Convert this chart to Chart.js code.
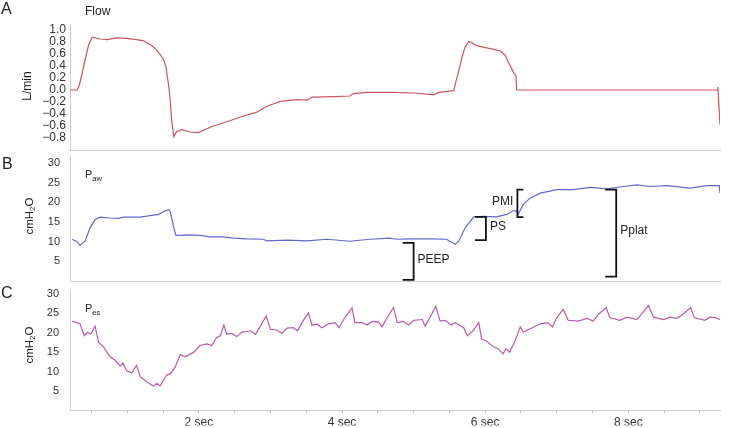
<!DOCTYPE html>
<html>
<head>
<meta charset="utf-8">
<script src="https://cdn.jsdelivr.net/npm/chart.js@4.4.0/dist/chart.umd.min.js"></script>
<style>
  html, body { margin: 0; padding: 0; background: #fff; }
  #wrap { position: relative; width: 729px; height: 428px; }
  #wrap canvas { position: absolute; left: 0; top: 0; }
</style>
</head>
<body>
<div id="wrap">
  <canvas id="flow" width="729" height="428"></canvas>
  <canvas id="paw" width="729" height="428"></canvas>
  <canvas id="pes" width="729" height="428"></canvas>
</div>
<script>
// time axis (sec)
const secTicks = [0.5, 1, 1.5, 2, 2.5, 3, 3.5, 4, 4.5, 5, 5.5, 6, 6.5, 7, 7.5, 8, 8.5, 9];
const secLabels = [2, 4, 6, 8];
const flowTicks = [1.0, 0.8, 0.6, 0.4, 0.2, 0, -0.2, -0.4, -0.6, -0.8];
const pressureTicks = [5, 10, 15, 20, 25, 30];

// A: flow (L/min)
const flowT = [0.20,0.30,0.33,0.37,0.41,0.46,0.51,0.62,0.72,0.85,0.99,1.13,1.23,1.27,1.34,1.41,1.46,1.51,1.54,1.56,
  1.58,1.60,1.62,1.65,1.69,1.76,1.88,1.99,2.20,2.39,2.58,2.81,2.95,3.14,3.37,3.51,3.58,3.88,4.11,4.16,
  4.35,4.72,5.00,5.18,5.28,5.35,5.56,5.59,5.63,5.67,5.72,5.77,5.81,5.88,6.07,6.21,6.28,6.32,6.37,6.40,
  6.43,6.44,9.24,9.25,9.28];
const flowV = [0.0,0.0,0.08,0.28,0.5,0.75,0.88,0.85,0.84,0.87,0.86,0.84,0.82,0.79,0.74,0.67,0.59,0.50,0.39,0.22,
  0.06,-0.17,-0.5,-0.78,-0.69,-0.66,-0.70,-0.71,-0.60,-0.53,-0.45,-0.37,-0.27,-0.19,-0.16,-0.17,-0.12,-0.11,-0.10,-0.06,
  -0.04,-0.04,-0.05,-0.07,-0.08,-0.04,-0.01,0.14,0.31,0.52,0.72,0.81,0.79,0.74,0.69,0.65,0.58,0.47,0.36,0.28,
  0.24,0.0,0.0,0.05,-0.58];

// B: airway pressure (cmH2O)
const pawT = [0.23,0.30,0.34,0.38,0.41,0.48,0.55,0.62,0.76,0.88,0.95,1.18,1.32,1.44,1.51,1.58,1.60,1.65,1.68,1.74,
  1.83,2.02,2.16,2.34,2.48,2.67,2.90,2.95,3.23,3.51,3.79,4.11,4.39,4.67,4.77,4.95,5.23,5.46,5.58,5.63,
  5.72,5.84,5.97,6.16,6.30,6.40,6.44,6.46,6.53,6.63,6.77,7.00,7.23,7.47,7.70,7.93,8.12,8.30,8.54,8.86,
  9.10,9.27,9.28];
const pawV = [10.6,10.0,9.0,9.7,10.1,13.5,15.6,16.2,16.0,15.9,16.2,16.2,16.6,16.9,17.7,18.1,17.7,13.5,11.6,11.6,
  11.7,11.6,11.2,11.2,10.9,10.7,10.6,10.2,10.4,10.2,10.6,10.1,10.6,10.9,10.6,10.7,10.7,10.6,9.3,10.1,
  13.5,16.3,16.4,16.3,16.9,17.9,17.7,16.9,19.4,21.1,22.3,23.2,23.2,23.8,23.4,24.0,24.4,24.0,24.2,23.6,
  24.2,24.2,22.3];

// C: esophageal pressure (cmH2O)
const pesT = [0.23,0.34,0.40,0.44,0.49,0.55,0.60,0.67,0.76,0.83,0.90,0.94,0.99,1.06,1.13,1.18,1.27,1.37,1.41,1.46,
  1.55,1.60,1.67,1.74,1.81,1.93,2.02,2.11,2.18,2.25,2.30,2.35,2.39,2.46,2.53,2.60,2.72,2.79,2.86,2.94,
  3.00,3.09,3.16,3.23,3.32,3.38,3.44,3.53,3.58,3.65,3.72,3.81,3.90,3.96,4.04,4.14,4.18,4.28,4.35,4.42,
  4.51,4.56,4.63,4.72,4.77,4.86,4.93,5.00,5.12,5.16,5.23,5.31,5.37,5.44,5.52,5.58,5.70,5.75,5.83,5.91,
  5.95,6.02,6.12,6.18,6.25,6.29,6.34,6.42,6.49,6.53,6.65,6.77,6.88,6.94,7.00,7.09,7.16,7.30,7.42,7.51,
  7.58,7.69,7.74,7.88,7.98,8.12,8.19,8.28,8.35,8.49,8.58,8.68,8.77,8.87,8.92,9.07,9.14,9.21,9.28];
const pesV = [23.0,22.3,19.2,20.1,19.6,21.7,17.5,16.3,13.8,12.9,11.4,12.2,10.2,9.7,11.6,8.7,7.4,6.2,7.0,6.3,
  9.1,9.4,11.2,14.4,13.8,15.0,16.7,17.1,16.7,18.8,19.2,22.0,19.6,19.8,19.0,20.1,20.5,19.6,21.7,24.3,
  20.9,20.7,19.8,21.2,21.3,20.5,22.6,25.1,22.0,22.2,21.3,22.3,22.6,21.3,23.9,26.4,22.6,22.6,22.0,22.9,
  22.8,21.5,23.9,26.5,22.6,22.9,22.0,23.2,23.4,21.7,24.0,26.8,23.0,23.2,22.0,22.6,21.3,19.2,20.5,22.6,
  18.4,17.8,16.3,15.9,14.6,15.9,15.0,18.0,21.5,20.2,21.2,22.3,22.6,21.5,23.9,26.0,23.2,23.0,23.7,23.0,
  24.7,26.5,23.9,23.2,24.0,23.4,24.9,27.0,24.0,23.4,24.0,23.7,24.9,26.5,23.9,23.2,24.0,23.9,23.4];

// pressure markers on panel B
const markNames = ['PEEP', 'PS', 'PMI', 'Pplat'];
const markT = [5.0, 6.01, 6.45, 7.83];
const markLow = [0.3, 10.4, 16.2, 1.1];
const markHigh = [9.7, 16.3, 23.2, 23.2];
const markOpen = [false, false, true, false];

const FONT = '"Liberation Sans", Arial, Helvetica, sans-serif';
const TEXT = '#222';
const AXIS = '#cfcfcf';

function pts(ts, vs) {
  return ts.map((t, i) => ({ x: t, y: vs[i] }));
}

// text with an optional subscript; rotated = reads bottom to top
function drawParts(ctx, parts, x, y, rotated) {
  ctx.save();
  ctx.translate(x, y);
  if (rotated) ctx.rotate(-Math.PI / 2);
  ctx.textAlign = 'left';
  ctx.textBaseline = 'alphabetic';
  ctx.fillStyle = TEXT;
  let w = 0;
  parts.forEach(p => {
    ctx.font = p[1] + 'px ' + FONT;
    p.w = ctx.measureText(p[0]).width;
    w += p.w;
  });
  let cx = rotated ? -w / 2 : 0;
  parts.forEach(p => {
    ctx.font = p[1] + 'px ' + FONT;
    ctx.fillText(p[0], cx, p[2] || 0);
    cx += p.w;
  });
  ctx.restore();
}

function panelText(cfg) {
  return {
    id: 'panelText',
    afterDraw(chart) {
      const ctx = chart.ctx;
      drawParts(ctx, [[cfg.letter, 16]], cfg.letterX, cfg.letterY, false);
      drawParts(ctx, cfg.name, 85, cfg.nameY, false);
      drawParts(ctx, cfg.unit, cfg.unitX, cfg.unitY, true);
    }
  };
}

const bracketPlugin = {
  id: 'brackets',
  afterDatasetsDraw(chart) {
    const { ctx, scales: { x, y } } = chart;
    ctx.save();
    ctx.strokeStyle = '#111';
    ctx.lineWidth = 1.8;
    ctx.fillStyle = TEXT;
    ctx.font = '12px ' + FONT;
    ctx.textBaseline = 'middle';
    markNames.forEach((name, i) => {
      const px = x.getPixelForValue(markT[i]);
      const top = y.getPixelForValue(markHigh[i]);
      const bot = y.getPixelForValue(markLow[i]);
      const arm = markOpen[i] ? 6 : -11;
      ctx.beginPath();
      ctx.moveTo(px + arm, top);
      ctx.lineTo(px, top);
      ctx.lineTo(px, bot);
      ctx.lineTo(px + arm, bot);
      ctx.stroke();
      const my = (top + bot) / 2 - 2;
      if (markOpen[i]) {
        ctx.textAlign = 'right';
        ctx.fillText(name, px - 4, my);
      } else {
        ctx.textAlign = 'left';
        ctx.fillText(name, px + 4, my);
      }
    });
    ctx.restore();
  }
};

function xScale(withLabels) {
  return {
    type: 'linear',
    min: 0.2,
    max: 9.28,
    border: { display: true, color: AXIS, width: 1 },
    grid: { display: true, drawOnChartArea: false, drawTicks: withLabels, tickLength: 3, color: '#c4c4c4' },
    ticks: { display: withLabels, autoSkip: false, maxRotation: 0, padding: 2,
      color: '#333', font: { family: FONT, size: 12 },
      callback: v => secLabels.includes(v) ? v + ' sec' : '' },
    afterBuildTicks: sc => { sc.ticks = secTicks.map(v => ({ value: v })); },
    afterFit: sc => { sc.height = withLabels ? 15 : 0; }
  };
}

function yScale(min, max, ticks, pad, size, fmt) {
  return {
    min: min,
    max: max,
    border: { display: true, color: AXIS, width: 1 },
    grid: { display: true, drawOnChartArea: false, drawTicks: false },
    ticks: { autoSkip: false, padding: pad, color: '#333', font: { family: FONT, size: size }, callback: fmt },
    afterBuildTicks: sc => { sc.ticks = ticks.map(v => ({ value: v })); },
    afterFit: sc => { sc.width = 70; }
  };
}

function makePanel(id, data, color, padding, scaleX, scaleY, plugins) {
  return new Chart(document.getElementById(id), {
    type: 'line',
    data: {
      datasets: [{
        data: data,
        borderColor: color,
        borderWidth: 1.2,
        pointRadius: 0,
        tension: 0,
        fill: false
      }]
    },
    options: {
      responsive: false,
      animation: false,
      events: [],
      layout: { padding: padding },
      plugins: { legend: { display: false }, tooltip: { enabled: false } },
      scales: { x: scaleX, y: scaleY }
    },
    plugins: plugins
  });
}

const flowFmt = v => (v < -0.001 ? '\u2212' : '') + Math.abs(v).toFixed(1);
const intFmt = v => String(v);

makePanel('flow', pts(flowT, flowV), 'rgb(204,84,96)',
  { top: 24, left: 0, right: 9, bottom: 278 },
  xScale(false), yScale(-1.0, 1.1, flowTicks, 4, 12, flowFmt),
  [panelText({ letter: 'A', letterX: 1, letterY: 13.5, name: [['Flow', 12]], nameY: 15,
    unit: [['L/min', 12]], unitX: 30.5, unitY: 86 })]);

makePanel('paw', pts(pawT, pawV), 'rgb(98,104,204)',
  { top: 155, left: 0, right: 9, bottom: 147 },
  xScale(false), yScale(0, 32, pressureTicks, 10, 11, intFmt),
  [bracketPlugin, panelText({ letter: 'B', letterX: 2, letterY: 169, name: [['P', 11], ['aw', 7.5, 2.5]], nameY: 178,
    unit: [['cmH', 11.5], ['2', 8, 2.5], ['O', 11.5]], unitX: 32.5, unitY: 216 })]);

makePanel('pes', pts(pesT, pesV), 'rgb(186,90,170)',
  { top: 290, left: 0, right: 9, bottom: 0 },
  xScale(true), yScale(0, 31, pressureTicks, 11, 11, intFmt),
  [panelText({ letter: 'C', letterX: 1, letterY: 298, name: [['P', 11], ['es', 7.5, 2.5]], nameY: 312,
    unit: [['cmH', 11.5], ['2', 8, 2.5], ['O', 11.5]], unitX: 32.5, unitY: 345 })]);
</script>
</body>
</html>
